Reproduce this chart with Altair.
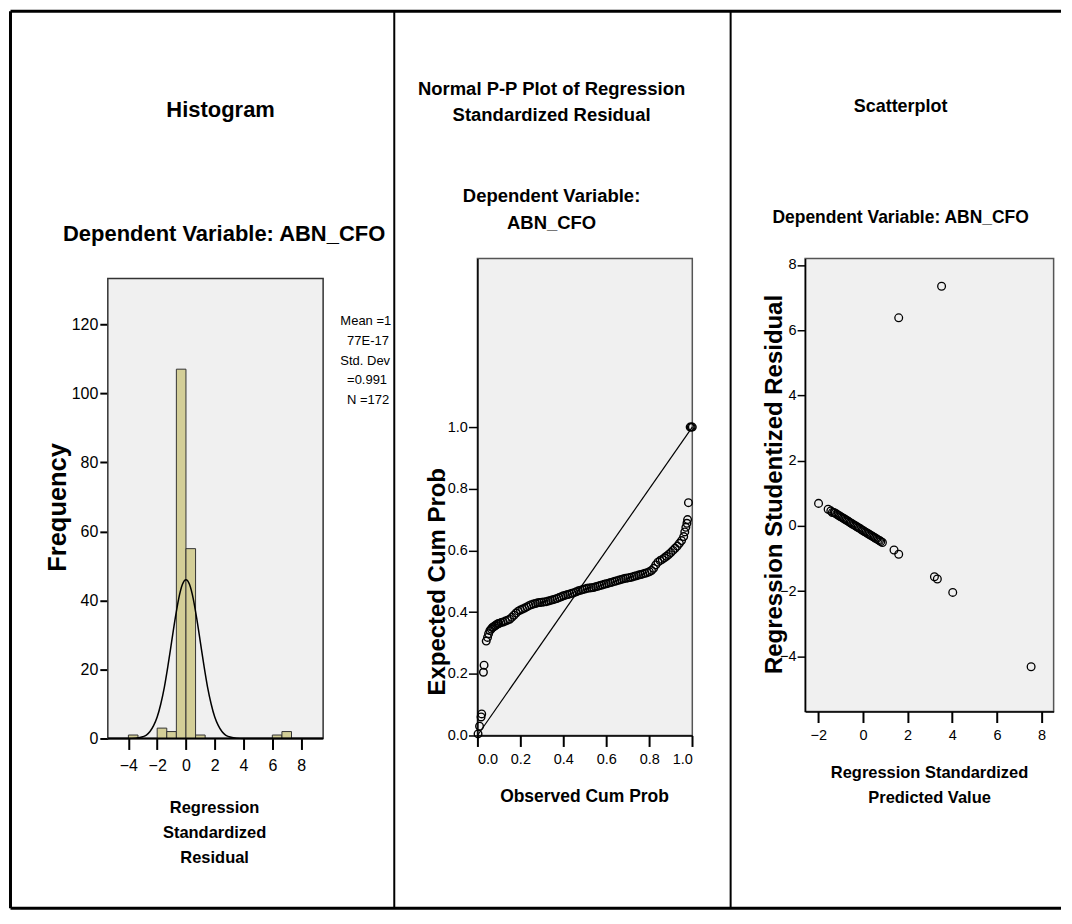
import altair as alt
import pandas as pd

# ---------------- data ----------------
# Histogram of regression standardized residuals (bin width 2/3)
hist_bin_start = [-4.0, -2.0, -1.333, -0.667, 0.0, 0.667, 6.0, 6.667]
hist_bin_end = [-3.333, -1.333, -0.667, 0.0, 0.667, 1.333, 6.667, 7.333]
hist_count = [1, 3, 2, 107, 55, 1, 1, 2]

# normal curve as drawn over the histogram
curve_x = [-5.4, -4.0, -3.5, -3.0, -2.75, -2.5, -2.25, -2.0, -1.75, -1.5, -1.25, -1.0,
           -0.75, -0.5, -0.25, 0.0, 0.25, 0.5, 0.75, 1.0, 1.25, 1.5, 1.75, 2.0,
           2.25, 2.5, 2.75, 3.0, 3.5, 4.0, 9.5]
curve_y = [0.0, 0.0, 0.1, 0.5, 1.0, 2.0, 3.7, 6.2, 10.0, 14.9, 21.1, 27.9,
           34.7, 40.6, 44.6, 46.0, 44.6, 40.6, 34.7, 27.9, 21.1, 14.9, 10.0, 6.2,
           3.7, 2.0, 1.0, 0.5, 0.1, 0.0, 0.0]

hist_stats = ["Mean =1.", "77E-17", "Std. Dev.", "=0.991", "N =172"]
hist_title = ["Histogram", "Dependent Variable: ABN_CFO"]
hist_xtitle = ["Regression", "Standardized", "Residual"]
hist_xticks = [-4, -2, 0, 2, 4, 6, 8]
hist_yticks = [0, 20, 40, 60, 80, 100, 120]

# Normal P-P plot
pp_observed = [0.003, 0.010, 0.017, 0.020, 0.028, 0.031,
               0.041, 0.047, 0.052, 0.058, 0.064, 0.070, 0.075, 0.080, 0.085, 0.090, 0.095, 0.100,
               0.11, 0.12, 0.13, 0.14, 0.15, 0.16, 0.17, 0.18, 0.19, 0.20,
               0.21, 0.22, 0.23, 0.24, 0.25, 0.26, 0.27, 0.28, 0.29, 0.30,
               0.31, 0.32, 0.33, 0.34, 0.35, 0.36, 0.37, 0.38, 0.39, 0.40,
               0.41, 0.42, 0.43, 0.44, 0.45, 0.46, 0.47, 0.48, 0.49, 0.50,
               0.51, 0.52, 0.53, 0.54, 0.55, 0.56, 0.57, 0.58, 0.59, 0.60,
               0.61, 0.62, 0.63, 0.64, 0.65, 0.66, 0.67, 0.68, 0.69, 0.70,
               0.71, 0.72, 0.73, 0.74, 0.75, 0.76, 0.77, 0.78, 0.79, 0.80,
               0.81, 0.82, 0.83, 0.84, 0.85, 0.86, 0.87, 0.88, 0.89, 0.90,
               0.91, 0.92, 0.93, 0.94, 0.95, 0.96,
               0.965, 0.970, 0.975, 0.978, 0.982, 0.990, 0.995, 1.000]
pp_expected = [0.005, 0.030, 0.060, 0.070, 0.205, 0.228,
               0.306, 0.318, 0.330, 0.340, 0.345, 0.350, 0.352, 0.355, 0.357, 0.360, 0.362, 0.363,
               0.366, 0.368, 0.371, 0.374, 0.377, 0.383, 0.390, 0.397, 0.403, 0.407,
               0.410, 0.413, 0.417, 0.421, 0.424, 0.426, 0.428, 0.430, 0.431, 0.432,
               0.433, 0.434, 0.436, 0.438, 0.440, 0.442, 0.444, 0.447, 0.450, 0.453,
               0.455, 0.457, 0.459, 0.461, 0.463, 0.466, 0.469, 0.471, 0.473, 0.475,
               0.477, 0.478, 0.479, 0.480, 0.482, 0.484, 0.486, 0.488, 0.490, 0.492,
               0.494, 0.496, 0.498, 0.500, 0.502, 0.504, 0.506, 0.508, 0.510, 0.511,
               0.512, 0.514, 0.516, 0.518, 0.520, 0.522, 0.524, 0.526, 0.528, 0.531,
               0.535, 0.542, 0.553, 0.562, 0.567, 0.571, 0.576, 0.581, 0.587, 0.593,
               0.600, 0.607, 0.614, 0.623, 0.632, 0.645,
               0.660, 0.675, 0.688, 0.700, 0.755, 1.000, 1.000, 1.000]
pp_reference = [0.0, 1.0]
pp_title = ["Normal P-P Plot of Regression", "Standardized Residual",
            "Dependent Variable:", "ABN_CFO"]
pp_xtitle = "Observed Cum Prob"
pp_ytitle = "Expected Cum Prob"
pp_ticks = [0.0, 0.2, 0.4, 0.6, 0.8, 1.0]

# Scatterplot
sc_predicted = [-1.99, -1.56, -1.44, -1.37,
                -1.30, -1.24, -1.18, -1.12, -1.06, -1.00, -0.94, -0.88, -0.82, -0.76,
                -0.70, -0.64, -0.58, -0.52, -0.46, -0.40, -0.34, -0.28, -0.22, -0.16,
                -0.10, -0.04, 0.02, 0.08, 0.14, 0.20, 0.26, 0.32, 0.38, 0.44,
                0.50, 0.56, 0.62, 0.68, 0.74, 0.80, 0.87,
                1.39, 1.60, 3.20, 3.33, 4.02, 7.53, 1.60, 3.52]
sc_resid = [0.69, 0.51, 0.46, 0.41,
            0.41, 0.385, 0.36, 0.33, 0.31, 0.28, 0.26, 0.23, 0.21, 0.18,
            0.16, 0.13, 0.10, 0.08, 0.05, 0.03, 0.00, -0.02, -0.05, -0.07,
            -0.10, -0.13, -0.15, -0.18, -0.20, -0.23, -0.25, -0.28, -0.30, -0.33,
            -0.35, -0.38, -0.40, -0.43, -0.45, -0.48, -0.51,
            -0.74, -0.87, -1.56, -1.63, -2.04, -4.32, 6.38, 7.35]
sc_title = ["Scatterplot", "Dependent Variable: ABN_CFO"]
sc_xtitle = ["Regression Standardized", "Predicted Value"]
sc_ytitle = "Regression Studentized Residual"
sc_xticks = [-2, 0, 2, 4, 6, 8]
sc_yticks = [-4, -2, 0, 2, 4, 6, 8]

# ---------------- styling ----------------
FONT_N = "Liberation Sans Narrow, Arial Narrow, Liberation Sans, Arial, sans-serif"
FONT_B = "Liberation Sans, Arial, sans-serif"
BG = "#F0F0F0"
FRAME = "#555555"
BAR = "#D3CE97"

hist_df = pd.DataFrame({"start": hist_bin_start, "end": hist_bin_end, "count": hist_count})
curve_df = pd.DataFrame({"x": curve_x, "y": curve_y})
pp_df = pd.DataFrame({"obs": pp_observed, "exp": pp_expected})
ref_df = pd.DataFrame({"obs": pp_reference, "exp": pp_reference})
sc_df = pd.DataFrame({"pred": sc_predicted, "res": sc_resid})

ONE = alt.InlineData(values=[{}])


def label(text, x, y, size, weight="bold", font=FONT_N, align="center", limit=0):
    extra = {"limit": limit, "ellipsis": "\u200b"} if limit else {}
    return alt.Chart(ONE).mark_text(
        text=text, font=font, fontSize=size, fontWeight=weight, align=align,
        baseline="middle", color="black", **extra
    ).encode(x=alt.value(x), y=alt.value(y))


def hrule(x1, x2, y, w):
    return alt.Chart(ONE).mark_rule(color="black", strokeWidth=w).encode(
        x=alt.value(x1), x2=alt.value(x2), y=alt.value(y))


def vrule(x, y1, y2, w):
    return alt.Chart(ONE).mark_rule(color="black", strokeWidth=w).encode(
        x=alt.value(x), y=alt.value(y1), y2=alt.value(y2))


# ---------------- histogram panel ----------------
H_W, H_H = 257.4, 481
HX_MIN, HX_MAX, HX_FRAME = -5.43, 12.42, 9.53
HY_MAX, HY_FRAME = 139.1, 133.3
HX = alt.Scale(domain=[HX_MIN, HX_MAX], nice=False, zero=False)
HY = alt.Scale(domain=[0, HY_MAX], nice=False, zero=False)
HX_AXIS = alt.Axis(values=hist_xticks, title=None, domain=False, grid=False,
                   tickSize=11, tickWidth=2, tickColor="black",
                   labelFont=FONT_N, labelFontSize=16, labelColor="black",
                   labelBaseline="middle", labelPadding=16)
HY_AXIS = alt.Axis(values=hist_yticks, title="Frequency", domain=False, grid=False,
                   tickSize=8, tickWidth=2, tickColor="black",
                   labelFont=FONT_N, labelFontSize=16, labelColor="black", labelPadding=2,
                   titleFont=FONT_B, titleFontSize=25.5, titleFontWeight="bold",
                   titleColor="black", titleAngle=270, titleAlign="center",
                   titleBaseline="middle", titleX=-50, titleY=249)


def hxd(v):
    return alt.X(datum=v, type="quantitative", scale=HX, axis=HX_AXIS)


def hyd(v):
    return alt.Y(datum=v, type="quantitative", scale=HY, axis=HY_AXIS)


h_frame = alt.Chart(ONE).mark_rect(fill=BG, stroke="#333333", strokeWidth=1.5).encode(
    x=hxd(HX_MIN), x2=alt.X2(datum=HX_FRAME), y=hyd(0), y2=alt.Y2(datum=HY_FRAME))
h_base = alt.Chart(ONE).mark_rule(color="black", strokeWidth=2).encode(
    x=hxd(HX_MIN), x2=alt.X2(datum=HX_FRAME), y=hyd(0))
h_bars = alt.Chart(hist_df).mark_rect(fill=BAR, stroke="#333333", strokeWidth=1).encode(
    x=alt.X("start:Q", scale=HX, axis=HX_AXIS), x2="end:Q",
    y=alt.Y("count:Q", scale=HY, axis=HY_AXIS), y2=alt.Y2(datum=0))
h_curve = alt.Chart(curve_df).mark_line(color="black", strokeWidth=1.5, interpolate="monotone").encode(
    x=alt.X("x:Q", scale=HX, axis=HX_AXIS), y=alt.Y("y:Q", scale=HY, axis=HY_AXIS))

h_layers = [h_frame, h_bars, h_curve, h_base]
stat_x = [233, 239.7, 233, 239.7, 239.7]
stat_y = [63, 83, 102.5, 122, 141.5]
for t, sx, sy in zip(hist_stats, stat_x, stat_y):
    h_layers.append(label(t, sx, sy, 13, weight="normal", align="left",
                          limit=round(285 - sx)))
h_layers += [
    label(hist_title[0], 113, -149, 22),
    label(hist_title[1], 116.5, -24.5, 22),
    label(hist_xtitle[0], 107, 551, 16.5),
    label(hist_xtitle[1], 107, 576, 16.5),
    label(hist_xtitle[2], 107, 601, 16.5),
]
# table borders (relative to the histogram plot origin)
h_layers += [
    hrule(-97.5, 955, -247.5, 3),
    hrule(-97.5, 955, 651, 3),
    vrule(-97.5, -247.5, 651, 3),
    vrule(287, -247.5, 651, 2),
    vrule(624, -247.5, 651, 2),
]
hist = alt.layer(*h_layers).properties(
    width=H_W, height=H_H,
    view=alt.ViewBackground(fill="transparent", stroke="transparent"))

# ---------------- P-P panel ----------------
P_W, P_H = 215.3, 478
PX = alt.Scale(domain=[0, 1], nice=False, zero=False)
PY = alt.Scale(domain=[0, 1.547], nice=False, zero=False)
PX_AXIS = alt.Axis(values=pp_ticks, format=".1f", title=None, grid=False,
                   domain=True, domainColor="black", domainWidth=1.5,
                   tickSize=11, tickWidth=2, tickColor="black",
                   labelFont=FONT_N, labelFontSize=14.5, labelColor="black",
                   labelBaseline="middle", labelPadding=13)
PY_AXIS = alt.Axis(values=pp_ticks, format=".1f", title=pp_ytitle, grid=False,
                   domain=True, domainColor="black", domainWidth=1.5,
                   tickSize=9, tickWidth=1.5, tickColor="black",
                   labelFont=FONT_N, labelFontSize=14.5, labelColor="black", labelPadding=1,
                   titleFont=FONT_B, titleFontSize=24, titleFontWeight="bold",
                   titleColor="black", titleAngle=270, titleAlign="center",
                   titleBaseline="middle", titleX=-40, titleY=323.5)

p_ref = alt.Chart(ref_df).mark_line(color="black", strokeWidth=1.2).encode(
    x=alt.X("obs:Q", scale=PX, axis=PX_AXIS), y=alt.Y("exp:Q", scale=PY, axis=PY_AXIS))
p_pts = alt.Chart(pp_df).mark_point(shape="circle", filled=False, color="black",
                                    size=58, strokeWidth=1.4, opacity=1).encode(
    x=alt.X("obs:Q", scale=PX, axis=PX_AXIS), y=alt.Y("exp:Q", scale=PY, axis=PY_AXIS))
pp = alt.layer(
    p_ref, p_pts,
    label(pp_title[0], 74.3, -169.5, 18.5),
    label(pp_title[1], 74.3, -144, 18.5),
    label(pp_title[2], 74.3, -62, 18.5),
    label(pp_title[3], 74.3, -35, 18.5),
    label(pp_xtitle, 107.3, 540, 17.5),
).properties(width=P_W, height=P_H)

# ---------------- scatter panel ----------------
S_W, S_H = 249, 454
SX = alt.Scale(domain=[-2.593, 8.538], nice=False, zero=False)
SY = alt.Scale(domain=[-5.693, 8.203], nice=False, zero=False)
SX_AXIS = alt.Axis(values=sc_xticks, title=None, grid=False,
                   domain=True, domainColor="black", domainWidth=1.5,
                   tickSize=11, tickWidth=2, tickColor="black",
                   labelFont=FONT_N, labelFontSize=14.5, labelColor="black",
                   labelBaseline="middle", labelPadding=13)
SY_AXIS = alt.Axis(values=sc_yticks, title=sc_ytitle, grid=False,
                   domain=True, domainColor="black", domainWidth=1.5,
                   tickSize=8, tickWidth=1.5, tickColor="black",
                   labelFont=FONT_N, labelFontSize=14.5, labelColor="black", labelPadding=1,
                   titleFont=FONT_B, titleFontSize=24, titleFontWeight="bold",
                   titleColor="black", titleAngle=270, titleAlign="center",
                   titleBaseline="middle", titleX=-31, titleY=226)
s_pts = alt.Chart(sc_df).mark_point(shape="circle", filled=False, color="black",
                                    size=60, strokeWidth=1.3, opacity=1).encode(
    x=alt.X("pred:Q", scale=SX, axis=SX_AXIS), y=alt.Y("res:Q", scale=SY, axis=SY_AXIS))
sc = alt.layer(
    s_pts,
    label(sc_title[0], 95.7, -152, 18),
    label(sc_title[1], 95.7, -40, 17.5),
    label(sc_xtitle[0], 124.7, 516, 16.5),
    label(sc_xtitle[1], 124.7, 541, 16.5),
).properties(width=S_W, height=S_H)

chart = alt.hconcat(hist, pp, sc, spacing=112.3, bounds="flush").properties(
    padding=0, background="white"
).configure_view(fill=BG, stroke=FRAME, strokeWidth=1.5)

chart.save("out.html", embed_options={"renderer": "svg", "actions": False})
